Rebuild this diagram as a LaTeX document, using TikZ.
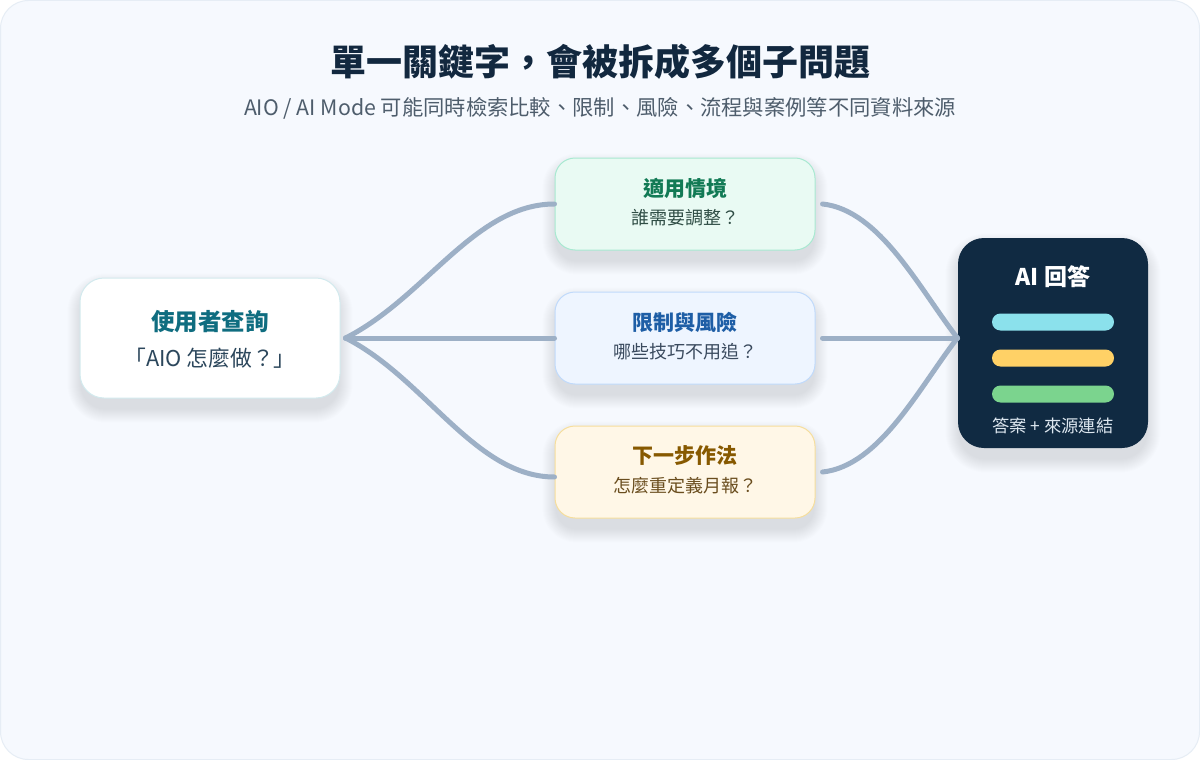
\documentclass[tikz,border=0pt]{standalone}
\usepackage{fontspec}
\setmainfont{Noto Sans CJK TC}
\definecolor{cardbg}{HTML}{F6F9FE}
\definecolor{cardline}{HTML}{E6EDF5}
\definecolor{titlec}{HTML}{12283F}
\definecolor{subc}{HTML}{4E5D6C}
\definecolor{linkc}{HTML}{9DB0C6}
\definecolor{lborder}{HTML}{D3EAEE}
\definecolor{ltitle}{HTML}{0F6D80}
\definecolor{lsub}{HTML}{2C475C}
\definecolor{gfill}{HTML}{E9FAF3}
\definecolor{gborder}{HTML}{A8E9D1}
\definecolor{gtitle}{HTML}{127A55}
\definecolor{gsub}{HTML}{2F4D45}
\definecolor{bfill}{HTML}{EEF5FF}
\definecolor{bborder}{HTML}{C0DAFB}
\definecolor{btitle}{HTML}{1E5EA6}
\definecolor{bsub}{HTML}{3A4A5E}
\definecolor{yfill}{HTML}{FFF7E7}
\definecolor{yborder}{HTML}{F6DE9C}
\definecolor{ytitle}{HTML}{875900}
\definecolor{ysub}{HTML}{6A4D1E}
\definecolor{rfill}{HTML}{102A42}
\definecolor{rsub}{HTML}{DCE6EF}
\definecolor{barA}{HTML}{8BE1EC}
\definecolor{barB}{HTML}{FFD166}
\definecolor{barC}{HTML}{7BD48E}
\definecolor{shadowc}{HTML}{1E3A5F}
\pgfdeclarelayer{bglayer}
\pgfdeclarelayer{shadowlayer}
\pgfsetlayers{bglayer,shadowlayer,main}
\newcommand{\softshadow}[2]{%
  \begin{pgfonlayer}{shadowlayer}
  \foreach \i in {1,...,14}{%
    \pgfmathsetmacro\rr{#2+\i}%
    \fill[shadowc, opacity=0.007, rounded corners=\rr pt]
      ([shift={(-\i+2,10-\i)}]#1.north west) rectangle ([shift={(\i-2,10+\i)}]#1.south east);
  }
  \end{pgfonlayer}}
\tikzset{
  box/.style={draw, line width=1pt, rounded corners=20pt, minimum width=260pt, minimum height=92pt, inner sep=0pt},
  link/.style={draw=linkc, line width=5pt, line cap=round},
  bar/.style={rounded corners=8.5pt, minimum width=122pt, minimum height=17pt, inner sep=0pt},
  ttl/.style={font=\bfseries\fontsize{21}{25}\selectfont},
  sub/.style={font=\fontsize{18}{22}\selectfont},
}
\begin{document}
\begin{tikzpicture}[x=1pt,y=-1pt]
\useasboundingbox (0,0) rectangle (1200,760);
\begin{pgfonlayer}{bglayer}
\fill[white] (0,0) rectangle (1200,760);
\draw[fill=cardbg, draw=cardline, line width=1pt, rounded corners=28pt] (0.5,0.5) rectangle (1199.5,759.5);
\end{pgfonlayer}

\node[text=titlec, font=\bfseries\fontsize{36}{43}\selectfont] (title) at (600,62) {單一關鍵字，會被拆成多個子問題};
\node[text=subc, font=\fontsize{21.3}{26}\selectfont] (subtitle) at (600,108) {AIO / AI Mode 可能同時檢索比較、限制、風險、流程與案例等不同資料來源};

% boxes
\node[box, fill=white, draw=lborder, minimum height=120pt, rounded corners=24pt] (L) at (210,338) {};
\node[box, fill=gfill, draw=gborder] (T) at (685,204) {};
\node[box, fill=bfill, draw=bborder] (M) at (685,338) {};
\node[box, fill=yfill, draw=yborder] (B) at (685,472) {};
\node[box, draw=none, fill=rfill, minimum width=190pt, minimum height=210pt, rounded corners=26pt] (R) at (1053,343) {};
\softshadow{L}{24}
\softshadow{T}{20}
\softshadow{M}{20}
\softshadow{B}{20}
\softshadow{R}{26}

% connectors
\coordinate (Lo) at ([xshift=5pt]L.east);
\coordinate (Ri) at ([yshift=5pt]R.west);
\draw[link] (Lo) .. controls (425,298) and (475,204) .. (T.west);
\draw[link] (Lo) -- (M.west);
\draw[link] (Lo) .. controls (425,378) and (475,477) .. ([yshift=-5pt]B.west);
\coordinate (To) at ([xshift=7pt]T.east);
\coordinate (Mo) at ([xshift=7pt]M.east);
\coordinate (Bo) at ([xshift=7pt]B.east);
\draw[link] (To) .. controls (880,210) and (920,290) .. (Ri);
\draw[link] (Mo) -- (Ri);
\draw[link] (Bo) .. controls (880,466) and (920,386) .. (Ri);

% texts
\node[text=ltitle, font=\bfseries\fontsize{23.5}{28}\selectfont] (Lt) at (210,322) {使用者查詢};
\node[text=lsub, font=\fontsize{21.8}{26}\selectfont] (Ls) at (210,358) {「AIO 怎麼做？」};

\node[ttl, text=gtitle] (Tt) at (685,188) {適用情境};
\node[sub, text=gsub] (Ts) at (685,218) {誰需要調整？};
\node[ttl, text=btitle] (Mt) at (685,322) {限制與風險};
\node[sub, text=bsub] (Ms) at (685,352) {哪些技巧不用追？};
\node[ttl, text=ytitle] (Bt) at (685,456) {下一步作法};
\node[sub, text=ysub] (Bs) at (685,486) {怎麼重定義月報？};

\node[text=white, font=\bfseries\fontsize{23}{27}\selectfont] (Rt) at (1053,277) {AI 回答};
\node[bar, fill=barA] (b1) at (1053,322) {};
\node[bar, fill=barB] (b2) at (1053,358) {};
\node[bar, fill=barC] (b3) at (1053,394) {};
\node[text=rsub, font=\fontsize{17.3}{21}\selectfont] (Rs) at (1053,426) {答案 + 來源連結};
\end{tikzpicture}
\end{document}
